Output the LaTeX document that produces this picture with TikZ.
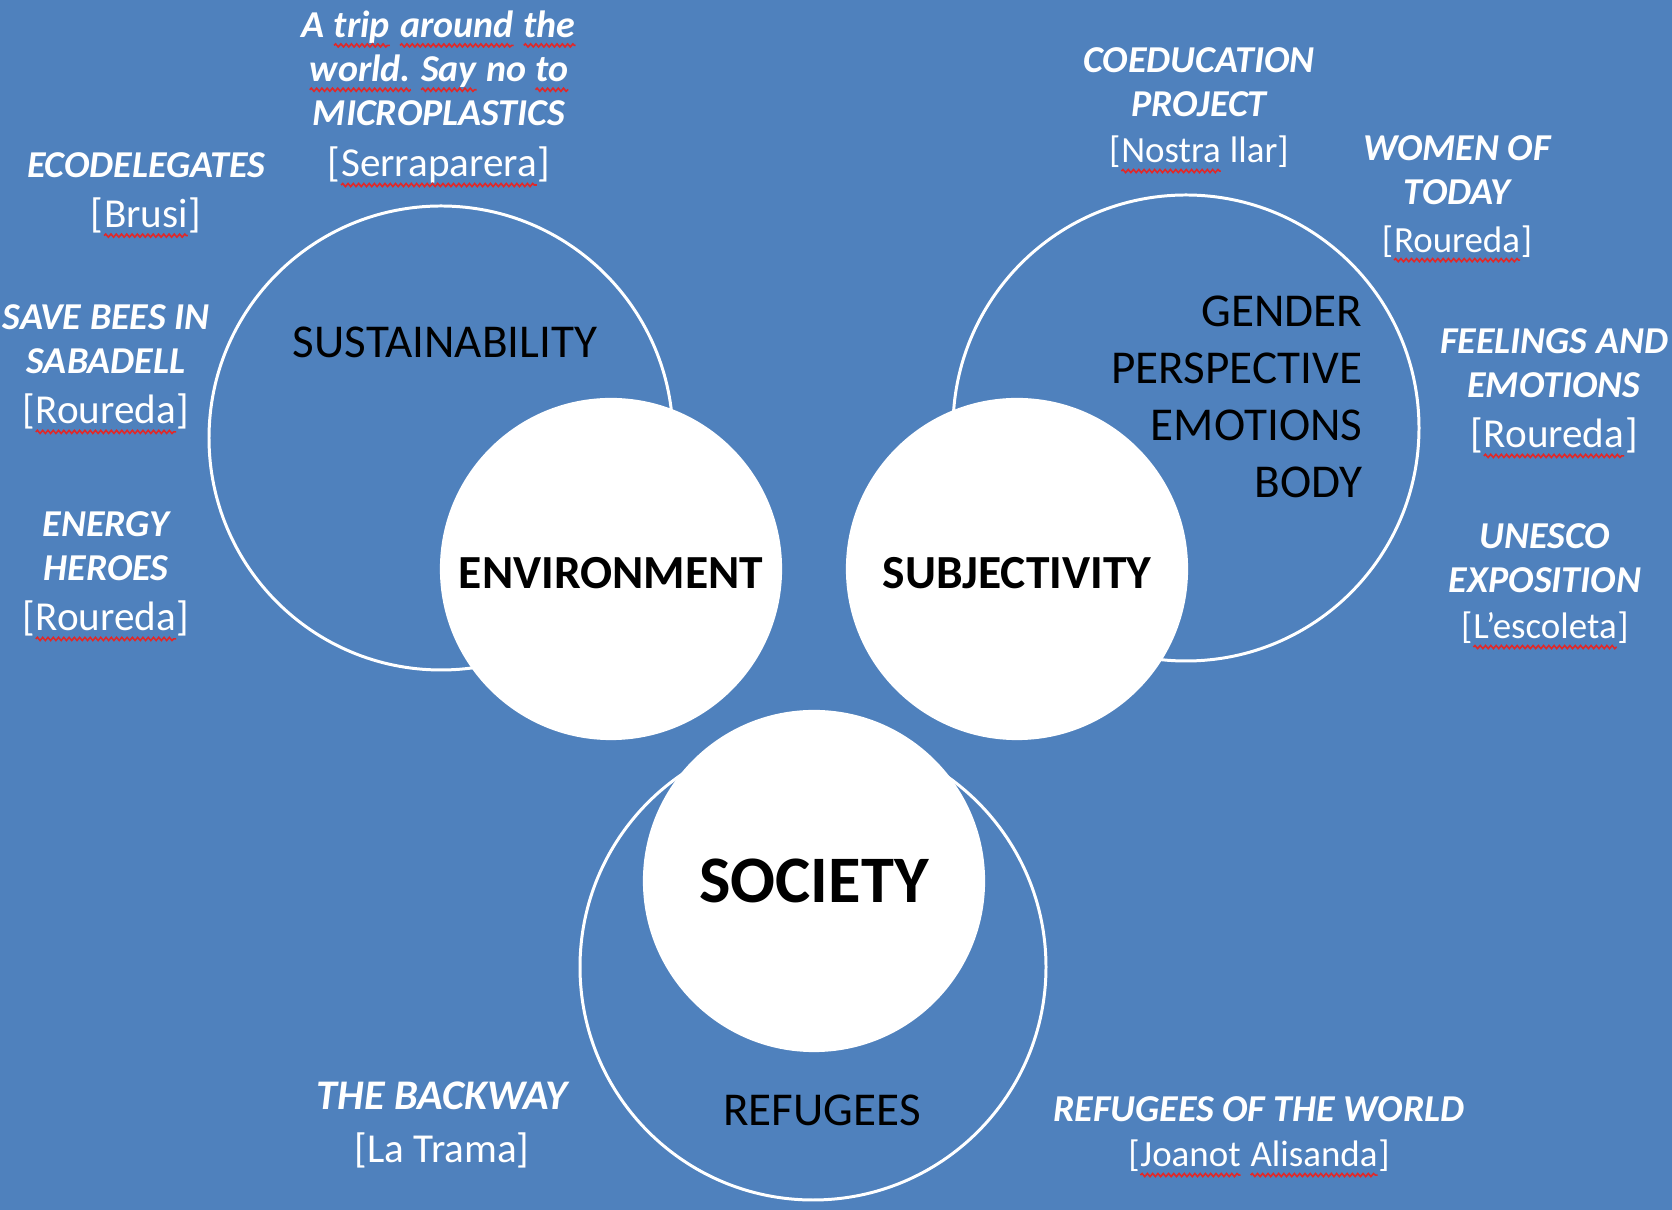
\documentclass[tikz,border=0pt]{standalone}
\usepackage{fontspec}
\setmainfont{Carlito}
\usetikzlibrary{decorations.pathmorphing}
\definecolor{bgblue}{RGB}{79,129,189}
\definecolor{squig}{RGB}{225,40,40}

% red spell-check squiggle under a word
\newcommand\sq[1]{\tikz[baseline=(sqw.base)]{\node[inner sep=0pt,outer sep=0pt,anchor=base] (sqw) at (0,0) {#1};
  \draw[squig,line width=.45pt,decorate,decoration={snake,amplitude=.45pt,segment length=1.5pt}] ([yshift=-2.3pt]sqw.base west) -- ([yshift=-2.3pt]sqw.base east);}}
\newcommand\brkbig{\fontsize{11.7pt}{12.6pt}\selectfont\mdseries\upshape}
\newcommand\brksmall{\fontsize{10.5pt}{12.6pt}\selectfont\mdseries\upshape}

\begin{document}
\begin{tikzpicture}[x=0.01cm,y=-0.01cm,
  ring/.style={draw=white,line width=0.85pt},
  disc/.style={circle,fill=white,inner sep=0pt,minimum size=3.42cm},
  disctext/.style={inner sep=0pt,font=\fontsize{13.5pt}{16pt}\selectfont\bfseries},
  theme/.style={inner sep=0pt,font=\fontsize{13.4pt}{16.2pt}\selectfont},
  proj/.style={inner sep=0pt,anchor=north,align=center,text=white,font=\fontsize{10.8pt}{12.6pt}\selectfont\bfseries\itshape}]
  \fill[bgblue] (0,0) rectangle (1672,1210);
  \useasboundingbox (0,0) rectangle (1672,1210);

  % outer rings
  \draw[ring] (441,438) circle[radius=232];
  \draw[ring] (1186,428) circle[radius=233];
  \draw[ring] (813,967) circle[radius=233];

  % white discs
  \node[disc] (env) at (611,569) {};
  \node[disc] (subj) at (1017,569) {};
  \node[disc] (soc) at (814,881) {};
  \node[disctext] (envlab) at ([yshift=-0.043cm]env.center) {ENVIRONMENT};
  \node[disctext] (subjlab) at ([yshift=-0.043cm]subj.center) {SUBJECTIVITY};
  \node[disctext,font=\fontsize{18.9pt}{22pt}\selectfont\bfseries] (soclab) at (soc.center) {SOCIETY};

  % ring labels
  \node[theme] (sust) at (445,342) {SUSTAINABILITY};
  \node[theme,align=right,anchor=east] (gender) at (1363,397) {GENDER\\PERSPECTIVE\\EMOTIONS\\BODY};
  \node[theme] (refug) at (822,1110) {REFUGEES};

  % projects
  \node[proj] (trip) at (439,10) {A \sq{trip} \sq{around} \sq{the}\\\sq{world.} \sq{Say} no \sq{to}\\MICROPLASTICS\\[1.9pt]\brkbig[\sq{Serraparera}]};
  \node[proj] (eco) at (146,152) {ECODELEGATES\\[1.6pt]\brkbig[\sq{Brusi}]};
  \node[proj] (bees) at (106,304) {SAVE BEES IN\\SABADELL\\[1.6pt]\brkbig[\sq{Roureda}]};
  \node[proj] (energy) at (106,511) {ENERGY\\HEROES\\[1.6pt]\brkbig[\sq{Roureda}]};
  \node[proj] (coedu) at (1199,47) {COEDUCATION\\PROJECT\\[0.5pt]\brksmall[\sq{Nostra} llar]};
  \node[proj] (women) at (1457,135) {WOMEN OF\\TODAY\\[0.8pt]\brksmall[\sq{Roureda}]};
  \node[proj] (feel) at (1554,328) {FEELINGS AND\\EMOTIONS\\[1.6pt]\brkbig[\sq{Roureda}]};
  \node[proj] (unesco) at (1545,523) {UNESCO\\EXPOSITION\\[0.5pt]\brksmall[\sq{L’escoleta}]};
  \node[proj,font=\fontsize{12pt}{13pt}\selectfont\bfseries\itshape] (backway) at (442,1081) {THE BACKWAY\\[2.2pt]\brkbig[La Trama]};
  \node[proj] (refworld) at (1259,1096) {REFUGEES OF THE WORLD\\[0.3pt]\brksmall[\sq{Joanot} \sq{Alisanda}]};
\end{tikzpicture}
\end{document}
